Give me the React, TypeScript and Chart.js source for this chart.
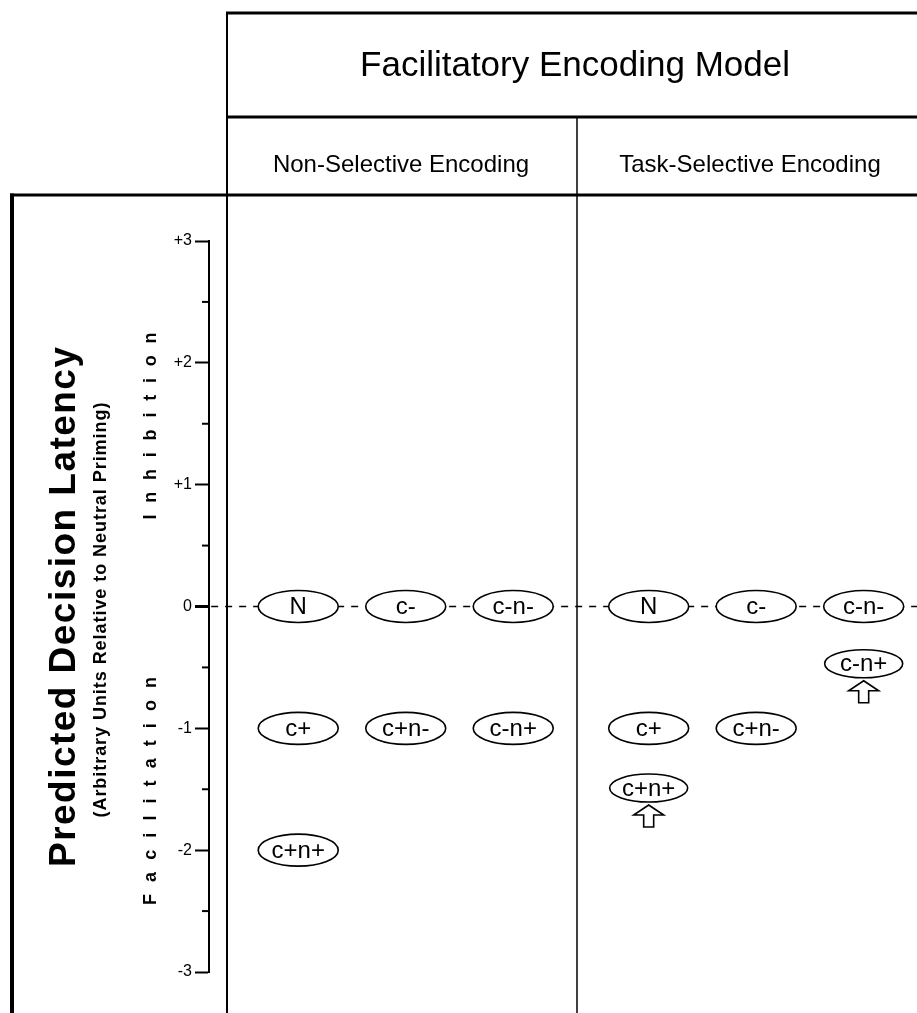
import React, { useEffect, useRef } from 'react';
import { Chart, registerables } from 'chart.js';

Chart.register(...registerables);

// ---- content ----
const modelTitle = 'Facilitatory Encoding Model';
const groupNames = ['Non-Selective Encoding', 'Task-Selective Encoding'];
const conditions = ['N', 'c-', 'c-n-', 'c+', 'c+n-', 'c-n+', 'c+n+'];
const conditionColumns = [0, 1, 2, 0, 1, 2, 0];
const nonSelectiveLatency = [0, 0, 0, -1, -1, -1, -2];
const taskSelectiveLatency = [0, 0, 0, -1, -1, -0.47, -1.49];
const taskShiftedUp = ['c-n+', 'c+n+'];
const yTickValues = [-3, -2, -1, 0, 1, 2, 3];
const yMinorValues = [-2.5, -1.5, -0.5, 0.5, 1.5, 2.5];
const yTitle = 'Predicted Decision Latency';
const ySubtitle = '(Arbitrary Units Relative to Neutral Priming)';
const upperRegion = 'Inhibition';
const lowerRegion = 'Facilitation';

// ---- layout ----
const W = 917;
const H = 1013;
const GROUP_OFFSET = 3.26;
const FONT = "'Liberation Sans', Arial, Helvetica, sans-serif";

function line(ctx: CanvasRenderingContext2D, x1: number, y1: number, x2: number, y2: number, w: number) {
  ctx.beginPath();
  ctx.lineWidth = w;
  ctx.moveTo(x1, y1);
  ctx.lineTo(x2, y2);
  ctx.stroke();
}

function rotatedText(ctx: CanvasRenderingContext2D, text: string, x: number, yCenter: number, font: string, targetLen: number) {
  ctx.save();
  ctx.font = font;
  (ctx as any).letterSpacing = '0px';
  const natural = ctx.measureText(text).width;
  const n = text.length;
  const spacing = Math.max(0, (targetLen - natural) / (n - 1));
  (ctx as any).letterSpacing = spacing.toFixed(2) + 'px';
  ctx.translate(x, yCenter);
  ctx.rotate(-Math.PI / 2);
  ctx.textAlign = 'left';
  ctx.textBaseline = 'alphabetic';
  ctx.fillStyle = '#000';
  ctx.fillText(text, -targetLen / 2, 0);
  ctx.restore();
}

const diagramPlugin = {
  id: 'diagram',
  beforeDraw(chart: any) {
    const ctx: CanvasRenderingContext2D = chart.ctx;
    ctx.save();
    ctx.fillStyle = '#fff';
    ctx.fillRect(0, 0, chart.width, chart.height);
    ctx.strokeStyle = '#000';
    ctx.lineCap = 'butt';
    // frame
    line(ctx, 226, 13, W, 13, 3);
    line(ctx, 226, 117, W, 117, 3);
    line(ctx, 10, 195, W, 195, 3);
    line(ctx, 227, 12, 227, H, 2);
    line(ctx, 577, 117, 577, H, 1.5);
    line(ctx, 12, 193.5, 12, H, 4);

    // headers
    ctx.fillStyle = '#000';
    ctx.textAlign = 'center';
    ctx.textBaseline = 'alphabetic';
    ctx.font = `35px ${FONT}`;
    ctx.fillText(modelTitle, 575, 76);
    ctx.font = `24px ${FONT}`;
    ctx.fillText(groupNames[0], 401, 172);
    ctx.fillText(groupNames[1], 750, 172);

    // rotated axis texts
    rotatedText(ctx, yTitle, 75, 607, `bold 37px ${FONT}`, 520);
    rotatedText(ctx, ySubtitle, 106, 610, `bold 18px ${FONT}`, 415);
    rotatedText(ctx, upperRegion, 156, 426, `bold 18px ${FONT}`, 187);
    rotatedText(ctx, lowerRegion, 156, 791, `bold 18px ${FONT}`, 228);
    ctx.restore();
  },
  beforeDatasetsDraw(chart: any) {
    const ctx: CanvasRenderingContext2D = chart.ctx;
    const ys = chart.scales.y;
    const left = chart.chartArea.left;
    ctx.save();
    ctx.strokeStyle = '#000';
    yMinorValues.forEach((v) => {
      const py = ys.getPixelForValue(v);
      line(ctx, left - 7, py, left, py, 2);
    });
    ctx.restore();
  },
  afterDatasetsDraw(chart: any) {
    const ctx: CanvasRenderingContext2D = chart.ctx;
    ctx.save();
    chart.data.datasets.forEach((ds: any, di: number) => {
      if (!ds.conditionLabels) return;
      const meta = chart.getDatasetMeta(di);
      meta.data.forEach((pt: any, i: number) => {
        const label = ds.conditionLabels[i];
        const x = pt.x;
        const y = pt.y;
        const hasArrow = ds.shifted && ds.shifted.includes(label);
        const rx = hasArrow ? 39 : 40;
        const ry = hasArrow ? 14 : 16;
        ctx.beginPath();
        ctx.ellipse(x, y, rx, ry, 0, 0, Math.PI * 2);
        ctx.fillStyle = '#fff';
        ctx.fill();
        ctx.lineWidth = 1.6;
        ctx.strokeStyle = '#000';
        ctx.stroke();
        ctx.fillStyle = '#000';
        ctx.font = `24px ${FONT}`;
        ctx.textAlign = 'center';
        ctx.textBaseline = 'alphabetic';
        ctx.fillText(label, x, y + 7.5);
        if (hasArrow) {
          const tip = y + ry + 3;
          const headH = 10;
          const headHW = 15;
          const stemHW = 5;
          const bottom = tip + 22;
          ctx.beginPath();
          ctx.moveTo(x, tip);
          ctx.lineTo(x + headHW, tip + headH);
          ctx.lineTo(x + stemHW, tip + headH);
          ctx.lineTo(x + stemHW, bottom);
          ctx.lineTo(x - stemHW, bottom);
          ctx.lineTo(x - stemHW, tip + headH);
          ctx.lineTo(x - headHW, tip + headH);
          ctx.closePath();
          ctx.fillStyle = '#fff';
          ctx.fill();
          ctx.lineWidth = 1.6;
          ctx.stroke();
        }
      });
    });
    ctx.restore();
  },
};

export default function App() {
  const ref = useRef<HTMLCanvasElement | null>(null);
  useEffect(() => {
    if (!ref.current) return;
    const nonSelPoints = conditions.map((c, i) => ({ x: conditionColumns[i], y: nonSelectiveLatency[i] }));
    const taskPoints = conditions.map((c, i) => ({ x: GROUP_OFFSET + conditionColumns[i], y: taskSelectiveLatency[i] }));
    const chart = new Chart(ref.current, {
      type: 'scatter',
      data: {
        datasets: [
          {
            type: 'line',
            label: 'neutral baseline',
            data: [
              { x: -0.81, y: 0 },
              { x: 5.76, y: 0 },
            ],
            borderColor: '#000',
            borderWidth: 1.5,
            borderDash: [7, 7],
            pointRadius: 0,
            fill: false,
          } as any,
          {
            label: groupNames[0],
            data: nonSelPoints,
            pointRadius: 0,
            conditionLabels: conditions,
          } as any,
          {
            label: groupNames[1],
            data: taskPoints,
            pointRadius: 0,
            conditionLabels: conditions,
            shifted: taskShiftedUp,
          } as any,
        ],
      },
      options: {
        responsive: false,
        animation: false,
        devicePixelRatio: 1,
        events: [],
        layout: { padding: { top: 241, bottom: 41, left: 0, right: 0 } },
        plugins: { legend: { display: false }, tooltip: { enabled: false } },
        scales: {
          x: { type: 'linear', display: false, min: -0.83, max: 5.756 },
          y: {
            type: 'linear',
            min: -3,
            max: 3,
            afterFit: (s: any) => {
              s.width = 209;
            },
            afterBuildTicks: (s: any) => {
              s.ticks = yTickValues.map((v) => ({ value: v }));
            },
            ticks: {
              color: '#000',
              padding: 3,
              font: { family: FONT, size: 16 },
              callback: (v: any) => (v > 0 ? '+' + v : String(v)),
            },
            grid: {
              drawOnChartArea: false,
              drawTicks: true,
              tickLength: 14,
              tickColor: '#000',
              tickWidth: (c: any) => (c.tick && c.tick.value === 0 ? 3 : 2),
            },
            border: { display: true, color: '#000', width: 2 },
          },
        },
      } as any,
      plugins: [diagramPlugin],
    });
    return () => chart.destroy();
  }, []);
  return (
    <div style={{ position: 'absolute', left: 0, top: 0, width: W, height: H, background: '#fff' }}>
      <canvas ref={ref} width={W} height={H} style={{ display: 'block' }} />
    </div>
  );
}
